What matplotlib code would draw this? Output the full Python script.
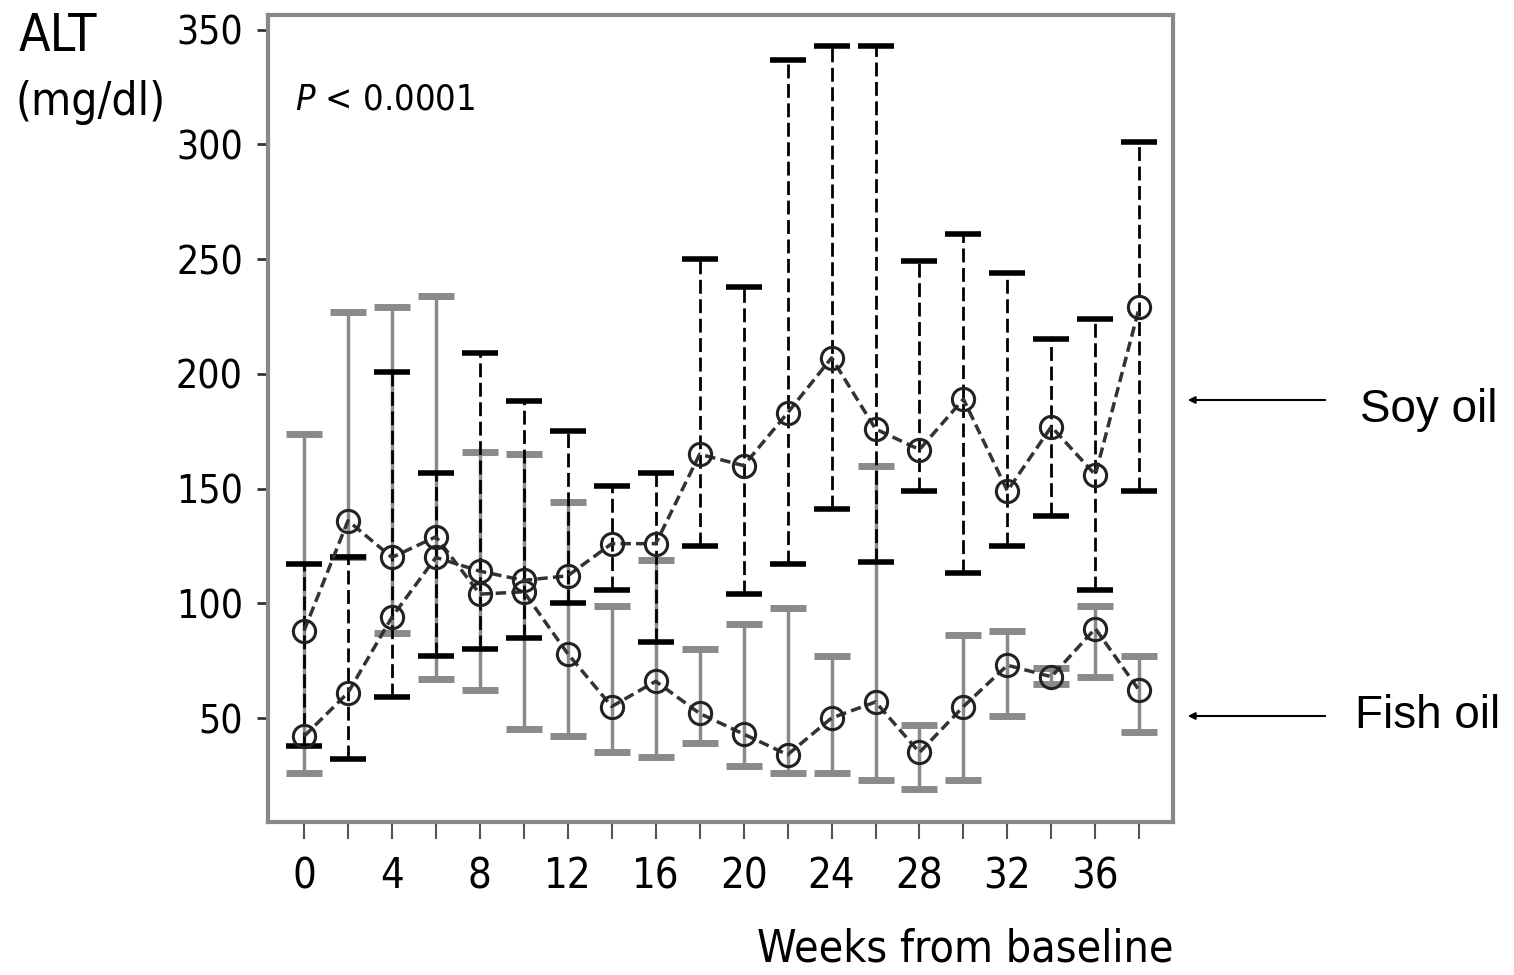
import numpy as np
import matplotlib.pyplot as plt

weeks = np.arange(0, 40, 2)

soy = [42, 61, 94, 120, 114, 110, 112, 126, 126, 165, 160, 183, 207, 176, 167, 189, 149, 177, 156, 229]
soy_lo = [38, 32, 59, 77, 80, 85, 100, 106, 83, 125, 104, 117, 141, 118, 149, 113, 125, 138, 106, 149]
soy_hi = [117, 120, 201, 157, 209, 188, 175, 151, 157, 250, 238, 337, 343, 343, 249, 261, 244, 215, 224, 301]

fish = [88, 136, 120, 129, 104, 105, 78, 55, 66, 52, 43, 34, 50, 57, 35, 55, 73, 68, 89, 62]
fish_lo = [26, 120, 87, 67, 62, 45, 42, 35, 33, 39, 29, 26, 26, 23, 19, 23, 51, 65, 68, 44]
fish_hi = [174, 227, 229, 234, 166, 165, 144, 99, 119, 80, 91, 98, 77, 160, 47, 86, 88, 72, 99, 77]

yticks = [50, 100, 150, 200, 250, 300, 350]
xlabels = [0, 4, 8, 12, 16, 20, 24, 28, 32, 36]

fam = ['Liberation Sans Narrow', 'DejaVu Sans']
plt.rcParams['font.family'] = fam
plt.rcParams['font.stretch'] = 'condensed'

fig = plt.figure(figsize=(15.14, 9.75), dpi=100)
ax = fig.add_axes([0.177, 0.157, 0.598, 0.828])

def err(v, lo, hi):
    v = np.array(v); return [v - np.array(lo), np.array(hi) - v]

e1 = ax.errorbar(weeks, fish, yerr=err(fish, fish_lo, fish_hi), fmt='none',
                 ecolor='#8a8a8a', elinewidth=2.5, capsize=13, capthick=5, zorder=2)
e2 = ax.errorbar(weeks, soy, yerr=err(soy, soy_lo, soy_hi), fmt='none',
                 ecolor='black', elinewidth=2, capsize=13, capthick=4, zorder=3)
for c in e2[2]:
    c.set_linestyle((0, (5, 2)))

for y in [fish, soy]:
    ax.plot(weeks, y, color='#333333', lw=2.5, ls=(0, (3, 1.5)), marker='o',
            ms=16, mfc='none', mec='#222222', mew=2.2, zorder=4)

ax.set_xlim(-1.64, 39.55)
ax.set_ylim(4.7, 356.6)
ax.set_yticks(yticks)
ax.set_xticks(weeks)
ax.set_xticklabels([str(w) if w in xlabels else '' for w in weeks])
ax.tick_params(axis='x', length=12, width=1.5, pad=12, labelsize=30, color='#555555')
ax.tick_params(axis='y', length=8, width=2, pad=10, labelsize=28, color='#333333')
for s in ax.spines.values():
    s.set_color('#888888')
    s.set_linewidth(3)

ax.text(0.03, 0.895, r'$P$ < 0.0001', transform=ax.transAxes, fontsize=26, va='center')

fig.text(0.012, 0.962, 'ALT', fontsize=37, va='center', ha='left')
fig.text(0.01, 0.895, '(mg/dl)', fontsize=33, va='center', ha='left')
fig.text(0.775, 0.027, 'Weeks from baseline', fontsize=32, ha='right', va='center')

lab = ['Liberation Sans', 'DejaVu Sans']
fig.text(0.898, 0.579, 'Soy oil', fontsize=33, va='center', family=lab, stretch='normal')
fig.text(0.895, 0.266, 'Fish oil', fontsize=33, va='center', family=lab, stretch='normal')
ax.annotate('', xy=(1185, 975 - 400), xycoords='figure pixels', xytext=(1328, 975 - 400),
            textcoords='figure pixels', arrowprops=dict(arrowstyle='-|>', color='black', lw=1.5))
ax.annotate('', xy=(1185, 975 - 716), xycoords='figure pixels', xytext=(1328, 975 - 716),
            textcoords='figure pixels', arrowprops=dict(arrowstyle='-|>', color='black', lw=1.5))

fig.savefig('out.png', dpi=100)
